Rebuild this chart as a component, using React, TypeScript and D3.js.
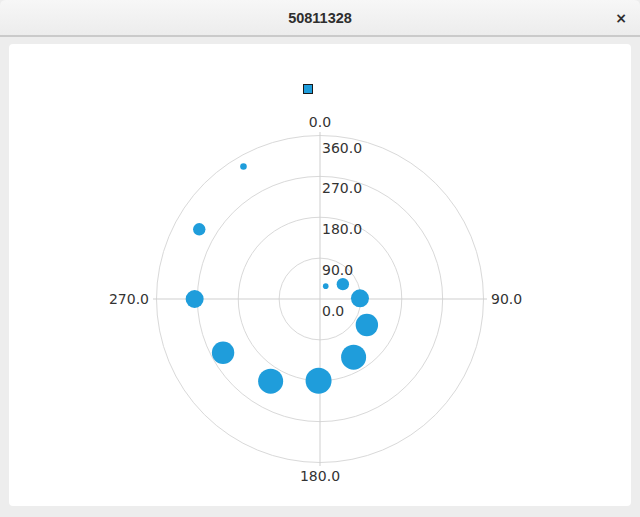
import React from "react";
import * as d3 from "d3";

// ---- data ----
const pointAngles = [24, 57, 89, 119, 150, 181, 211, 241, 270, 300, 330];
const pointRadii = [31, 60, 88, 118, 148, 180, 211, 244, 276, 307, 337];
const pointSizes = [2.8, 6.2, 9, 11.2, 12.5, 13, 12.5, 11.2, 9, 6.2, 3.3];
const radialTicks = [0, 90, 180, 270, 360];
const angleTicks = [0, 90, 180, 270];
const windowTitle = "50811328";

const W = 640;
const H = 517;
const cx = 320;
const cy = 299;
const R = 163.5;
const dotColor = "#1f9ddb";
const textColor = "#333333";
const font = "'DejaVu Sans', sans-serif";

export default function App() {
  const rScale = d3.scaleLinear().domain([0, 360]).range([0, R]);
  const aScale = d3.scaleLinear().domain([0, 360]).range([0, 2 * Math.PI]);
  const sizeScale = d3.scaleLinear().domain([0, 1]).range([0, 1]);

  const px = (a: number, r: number) => cx + Math.sin(aScale(a)) * r;
  const py = (a: number, r: number) => cy - Math.cos(aScale(a)) * r;

  const axisLen = 167;
  const labelR = 171;

  return (
    <div style={{ position: "fixed", left: 0, top: 0, width: W, height: H }}>
      <svg width={W} height={H} style={{ display: "block" }}>
        <defs>
          <linearGradient id="tb" x1="0" y1="0" x2="0" y2="1">
            <stop offset="0" stopColor="#f7f7f7" />
            <stop offset="1" stopColor="#ececec" />
          </linearGradient>
        </defs>
        <rect x={0} y={0} width={W} height={H} fill="#ededed" />
        <path
          d={`M0,36 L0,6 Q0,0 6,0 L${W - 6},0 Q${W},0 ${W},6 L${W},36 Z`}
          fill="url(#tb)"
        />
        <line x1={0} x2={W} y1={36} y2={36} stroke="#a8a8a8" strokeWidth={1} />
        <text
          x={320}
          y={23}
          textAnchor="middle"
          fontFamily="'Liberation Sans', sans-serif"
          fontWeight="bold"
          fontSize={14.5}
          fill="#2e2e2e"
        >
          {windowTitle}
        </text>
        <text
          x={621}
          y={23}
          textAnchor="middle"
          fontFamily="'DejaVu Sans', sans-serif"
          fontWeight="bold"
          fontSize={14}
          fill="#2e2e2e"
        >
          ×
        </text>
        <rect x={9} y={44} width={622} height={462} rx={4} fill="#ffffff" />

        {/* rings */}
        {radialTicks
          .filter((v) => v > 0)
          .map((v) => (
            <circle
              key={"ring" + v}
              cx={cx}
              cy={cy}
              r={rScale(v)}
              fill="none"
              stroke="#d9d9d9"
              strokeWidth={1}
            />
          ))}
        {/* axis spokes */}
        {angleTicks.map((a) => (
          <line
            key={"sp" + a}
            x1={cx}
            y1={cy}
            x2={px(a, axisLen)}
            y2={py(a, axisLen)}
            stroke="#cfcfcf"
            strokeWidth={1}
          />
        ))}
        {/* angle labels */}
        {angleTicks.map((a) => {
          const s = Math.sin(aScale(a));
          const c = Math.cos(aScale(a));
          const x = px(a, labelR);
          const y = py(a, labelR);
          const anchor = Math.abs(s) < 0.01 ? "middle" : s > 0 ? "start" : "end";
          const dy = Math.abs(c) < 0.01 ? 5 : c > 0 ? -1 : 11;
          return (
            <text
              key={"al" + a}
              x={x}
              y={y + dy}
              textAnchor={anchor}
              fontFamily={font}
              fontSize={14}
              fill={textColor}
            >
              {a.toFixed(1)}
            </text>
          );
        })}
        {/* radial labels */}
        {radialTicks.map((v) => (
          <text
            key={"rl" + v}
            x={cx + 2}
            y={cy - rScale(v) + 17}
            fontFamily={font}
            fontSize={14}
            fill={textColor}
          >
            {v.toFixed(1)}
          </text>
        ))}
        {/* points */}
        {pointAngles.map((a, i) => (
          <circle
            key={"p" + i}
            cx={px(a, rScale(pointRadii[i]))}
            cy={py(a, rScale(pointRadii[i]))}
            r={sizeScale(pointSizes[i])}
            fill={dotColor}
          />
        ))}
        {/* legend symbol */}
        <rect
          x={303.5}
          y={84.5}
          width={9}
          height={9}
          fill={dotColor}
          stroke="#1a1a1a"
          strokeWidth={1}
        />
      </svg>
    </div>
  );
}
